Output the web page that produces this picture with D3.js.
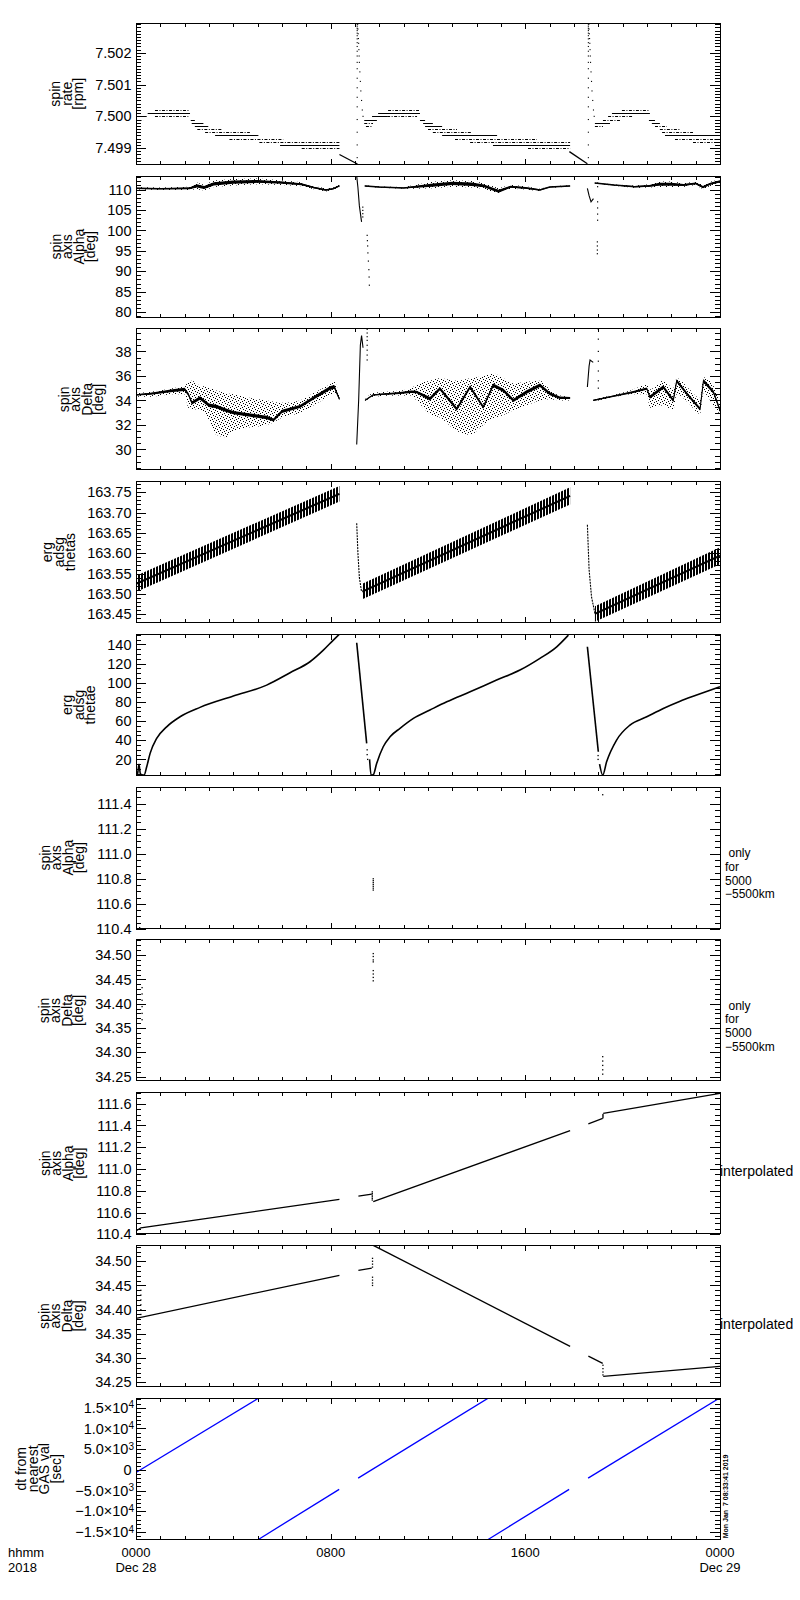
<!DOCTYPE html>
<html><head><meta charset="utf-8">
<script src="https://cdn.jsdelivr.net/npm/d3@7"></script>
<style>body{margin:0;background:#fff}svg{display:block}</style>
</head><body>
<svg id="chart" width="800" height="1600"></svg>
<script>
// ---------------- DATA ----------------
const hoursDomain = [0, 24];
const xMajorHours = [0, 8, 16, 24];
const xMajorLabels = ["0000", "0800", "1600", "0000"];
const xDateLabels = ["Dec 28", "", "", "Dec 29"];

// Panel 1: spin rate [rpm]
const rateTicks = [7.499, 7.500, 7.501, 7.502];
const rateSteps = [
  [0.78,2.18,7.5002,"d"],[0.48,2.22,7.5001,"s"],[0.00,0.44,7.5000,"s"],[0.78,2.15,7.5000,"d"],
  [0.00,0.29,7.4999,"d"],[2.25,2.42,7.4999,"s"],[0.00,0.16,7.4998,"d"],[2.29,2.77,7.4998,"s"],
  [2.42,2.97,7.4997,"s"],[2.52,3.52,7.4996,"d"],[2.84,4.68,7.4995,"d"],[3.25,5.03,7.4994,"s"],
  [3.84,6.05,7.4993,"d"],[5.07,8.36,7.4992,"d"],[5.92,8.36,7.4991,"s"],[6.81,8.36,7.4990,"d"],
  [9.38,9.90,7.4999,"s"],[9.38,9.74,7.4998,"d"],[9.45,9.70,7.4997,"d"],[9.70,10.32,7.5000,"s"],
  [10.32,11.55,7.5000,"d"],[9.95,11.67,7.5001,"s"],[10.36,11.63,7.5002,"d"],[11.67,11.88,7.4999,"s"],
  [11.80,12.20,7.4998,"s"],[11.88,12.58,7.4997,"s"],[12.00,13.19,7.4996,"d"],[12.20,13.81,7.4995,"d"],
  [12.58,14.84,7.4994,"s"],[13.11,16.48,7.4993,"d"],[13.73,17.84,7.4992,"d"],[14.67,17.84,7.4991,"s"],
  [16.11,17.84,7.4990,"d"],
  [18.86,19.48,7.4998,"s"],[18.86,19.19,7.4997,"d"],[19.19,19.89,7.4999,"d"],[19.40,20.42,7.5000,"d"],
  [19.56,21.12,7.5001,"s"],[19.97,21.08,7.5002,"d"],[21.08,21.33,7.4999,"s"],[21.20,21.53,7.4998,"s"],
  [21.33,21.82,7.4997,"d"],[21.53,22.36,7.4996,"d"],[21.62,22.89,7.4995,"d"],[21.74,24.00,7.4994,"s"],
  [22.15,24.00,7.4993,"d"],[22.89,24.00,7.4992,"d"]
];
const rateRamps = [[[8.36,7.49880],[9.10,7.49850]], [[17.81,7.49889],[18.55,7.49851]]];
const rateSpikeHours = [9.09, 18.59];
const rateSpikeColumn = [7.50288,7.50282,7.50276,7.5027,7.50262,7.50254,7.50244,7.50232,7.5022,7.50205,7.5019,7.5017,7.5015,7.5012,7.5009,7.5006,7.5003,7.4999,7.4995,7.4991,7.4987];
const rateDecay = [
  [9.11,7.50290],[9.12,7.50275],[9.13,7.5026],[9.14,7.50245],[9.15,7.5023],[9.16,7.5021],[9.17,7.5019],
  [9.18,7.5017],[9.20,7.5014],[9.22,7.5011],[9.24,7.5008],[9.27,7.5005],[9.30,7.5002],[9.33,7.5000],
  [18.61,7.50290],[18.62,7.50275],[18.63,7.5026],[18.64,7.50245],[18.65,7.5023],[18.66,7.5021],[18.67,7.5019],
  [18.68,7.5017],[18.70,7.5014],[18.72,7.5011],[18.74,7.5008],[18.77,7.5005],[18.80,7.5002],[18.83,7.5000]
];

// Panel 2: spin axis Alpha [deg]
const alphaTicks = [80, 85, 90, 95, 100, 105, 110];
const alphaH = [[0,1.0,2.2,2.5,2.8,3.2,4.0,5.0,6.0,6.8,7.3,7.8,8.1,8.36],
  [9.4,10.0,11.0,11.5,12.2,13.0,13.8,14.3,14.9,15.4,16.0,16.6,17.0,17.84],
  [18.85,19.65,20.5,21.1,21.5,22.0,22.5,23.0,23.3,23.6,24.0]];
const alphaMid = [[110.3,110.2,110.3,110.9,110.5,111.4,111.8,112.0,111.7,111.3,110.5,109.9,110.2,110.9],
  [110.9,110.6,110.4,110.7,111.1,111.5,111.3,110.9,109.6,110.7,110.4,109.9,110.6,110.9],
  [111.6,111.1,110.7,110.9,111.3,111.3,111.1,111.5,110.6,111.4,112.0]];
const alphaSpread = [[0.3,0.3,0.4,0.8,0.7,0.8,0.8,0.7,0.6,0.5,0.4,0.4,0.3,0.3],
  [0.15,0.15,0.2,0.5,0.8,0.8,0.8,0.7,0.7,0.5,0.4,0.3,0.2,0.15],
  [0.1,0.15,0.3,0.4,0.7,0.7,0.5,0.4,0.5,0.5,0.5]];
const alphaSpikes = [[[9.07,113.3],[9.12,110.5],[9.18,106.0],[9.27,102.1]], [[18.55,110.3],[18.62,108.5],[18.70,107.0],[18.80,107.8]]];
const alphaDots = [[9.32,105.7],[9.32,104.9],[9.32,104.1],[9.32,103.3],[9.50,98.8],[9.51,97.5],[9.52,96.2],[9.53,94.5],
  [9.55,92.5],[9.57,90.4],[9.58,88.6],[9.59,86.6],[18.97,111.6],[18.97,110.7],[18.97,107.0],[18.97,105.5],
  [18.97,104.0],[18.97,102.5],[18.96,97.2],[18.96,96.2],[18.96,95.2],[18.96,94.3]];

// Panel 3: spin axis Delta [deg]
const deltaTicks = [30, 32, 34, 36, 38];
const deltaH = [[0,0.6,1.5,2.0,2.15,2.3,2.63,3.0,3.3,3.7,4.0,4.7,5.37,5.65,6.0,6.74,7.3,7.97,8.15,8.36],
  [9.41,9.75,10.85,11.3,11.53,12.08,12.49,13.18,13.73,14.27,14.68,15.1,15.51,16.05,16.6,17.01,17.42,17.84],
  [18.79,19.5,20.44,20.99,21.12,21.67,22.08,22.22,22.7,23.18,23.32,23.73,24.0]];
const deltaCore = [[34.45,34.55,34.8,34.9,34.5,33.8,34.2,33.6,33.5,33.2,33.0,32.8,32.6,32.4,33.1,33.5,34.2,35.0,35.1,34.1],
  [34.0,34.45,34.6,34.7,34.68,34.14,34.96,33.3,35.1,33.45,35.23,34.82,34.0,34.68,35.23,34.55,34.22,34.2],
  [34.0,34.3,34.68,34.96,34.27,35.1,34.0,35.6,34.4,33.3,35.6,34.68,33.2]];
const deltaCoreHw = [[0.06,0.08,0.12,0.13,0.13,0.13,0.14,0.14,0.14,0.14,0.14,0.14,0.14,0.13,0.13,0.13,0.13,0.15,0.15,0.08],
  [0.05,0.06,0.08,0.1,0.1,0.14,0.14,0.14,0.14,0.14,0.14,0.14,0.14,0.14,0.14,0.12,0.1,0.08],
  [0.05,0.06,0.08,0.1,0.14,0.14,0.14,0.13,0.13,0.12,0.14,0.14,0.14]];
const deltaLow = [[34.3,34.3,34.5,34.5,33.4,33.3,33.2,32.4,31.2,31.0,31.5,31.8,32.0,32.2,32.6,33.0,33.6,34.4,34.6,33.9],
  [33.9,34.3,34.4,34.4,34.0,32.9,32.6,31.5,31.2,32.0,32.5,32.8,33.2,33.6,34.0,34.1,34.0,34.0],
  [33.9,34.2,34.5,34.5,33.4,33.6,33.2,34.5,33.8,32.9,34.6,33.6,32.8]];
const deltaHigh = [[34.6,34.7,35.0,35.2,35.5,35.6,35.2,35.1,34.8,34.6,34.5,34.2,34.0,33.9,33.8,34.0,34.6,35.3,35.5,34.3],
  [34.1,34.6,34.8,35.0,35.3,35.6,35.8,35.6,35.8,36.0,36.2,35.8,35.4,35.5,35.6,34.9,34.4,34.3],
  [34.1,34.4,34.9,35.3,34.9,35.6,35.0,35.8,35.0,34.2,35.9,35.2,33.8]];
const deltaSpikes = [[[9.07,30.4],[9.15,34.0],[9.22,38.5],[9.27,39.3],[9.33,38.3]], [[18.55,35.1],[18.62,36.8],[18.66,37.3],[18.79,37.1]]];
const deltaDots = [[9.5,39.8],[9.5,39.5],[9.5,39.2],[9.5,38.9],[9.5,38.5],[9.5,38.1],[9.5,37.7],[9.5,37.3],
  [19.0,39.8],[19.0,39.0],[19.0,38.0],[19.0,37.2],[19.0,36.4],[19.0,35.6],[19.0,35.0]];

// Panel 4: erg adsg thetas
const thetasTicks = [163.45,163.50,163.55,163.60,163.65,163.70,163.75];
const thetasBandH = [[0,8.36],[9.30,17.84],[18.86,24]];
const thetasBandLo = [[163.505,163.727],[163.487,163.72],[163.432,163.573]];
const thetasBandHi = [[163.545,163.765],[163.525,163.762],[163.47,163.615]];
const thetasSpikes = [[[9.07,163.674],[9.12,163.6],[9.18,163.54],[9.27,163.505]], [[18.55,163.67],[18.62,163.56],[18.72,163.493],[18.86,163.452]]];

// Panel 5: erg adsg thetae
const thetaeTicks = [20,40,60,80,100,120,140];
const thetaeSegs = [
  [[0.0,9],[0.06,4],[0.12,15],[0.18,5],[0.24,4],[0.33,3.6],[0.44,12.3],[0.58,26.3],[0.85,41.9],[1.26,54],[1.81,64.5],[2.63,74.3],[4.0,86.1],[5.37,97.5],[6.33,110.4],[7.15,121.9],[7.7,134],[8.11,144.5],[8.36,150.7]],
  [[9.07,141.7],[9.48,36.7]],
  [[9.6,20],[9.66,3.6],[9.75,4],[9.89,15.8],[10.16,33.2],[10.44,43.6],[10.85,52.4],[11.4,62.8],[12.08,71.5],[12.77,80.1],[13.73,90.5],[14.82,102.8],[15.78,113.2],[16.6,125.4],[17.29,137.5],[17.77,149.7]],
  [[18.55,137.5],[19.0,28]],
  [[19.05,15],[19.18,3.6],[19.34,17.5],[19.75,40.2],[20.3,55.8],[20.99,64.5],[21.67,73.2],[22.36,80.8],[23.04,87.1],[24,95.8]]
];
const thetaeDots = [[9.5,30],[9.5,25],[9.52,20],[18.99,24],[18.99,20]];

// Panel 6 / 7: only for 5000-5500km
const alphaFineTicks = [110.4,110.6,110.8,111.0,111.2,111.4];
const alphaOnlyDots = [[0.15,110.41],[9.75,110.80],[9.75,110.785],[9.75,110.77],[9.75,110.755],[9.75,110.74],[9.75,110.725],[9.75,110.71],[19.18,111.47]];
const deltaFineTicks = [34.25,34.30,34.35,34.40,34.45,34.50];
const deltaOnlyDots = [[0.25,34.433],[0.25,34.42],[0.25,34.407],[0.25,34.394],[0.25,34.38],[0.25,34.367],
  [9.75,34.503],[9.75,34.497],[9.75,34.49],[9.75,34.486],[9.75,34.468],[9.75,34.461],[9.75,34.454],[9.75,34.447],
  [19.18,34.291],[19.18,34.282],[19.18,34.273],[19.18,34.264],[19.18,34.255]];
const onlyLabelLines = ["only","for","5000","\u22125500km"];

// Panel 8 / 9: interpolated
const alphaInterpTicks = [110.4,110.6,110.8,111.0,111.2,111.4,111.6];
const alphaInterpSegs = [[[0,110.43],[0.2,110.46],[8.36,110.72]], [[9.14,110.751],[9.69,110.77]], [[9.75,110.70],[17.84,111.353]], [[18.59,111.415],[19.18,111.464]], [[19.2,111.51],[24,111.695]]];
const alphaInterpDots = [[9.71,110.79],[9.71,110.775],[9.71,110.76],[9.71,110.745],[9.71,110.73],[9.71,110.715],[19.19,111.47],[19.19,111.48],[19.19,111.49],[19.19,111.50]];
const deltaInterpSegs = [[[0,34.382],[8.36,34.471]], [[9.14,34.481],[9.69,34.486]], [[9.75,34.533],[17.84,34.324]], [[18.59,34.304],[19.18,34.289]], [[19.2,34.262],[24,34.2825]]];
const deltaInterpDots = [[0.2,34.44],[0.2,34.43],[0.2,34.42],[0.2,34.41],[0.2,34.40],[0.2,34.39],
  [9.72,34.506],[9.72,34.5],[9.72,34.494],[9.72,34.488],[9.72,34.467],[9.72,34.461],[9.72,34.455],[9.72,34.45],
  [19.19,34.285],[19.19,34.278],[19.19,34.271],[19.19,34.265]];

// Panel 10: dt from nearest GAS val [sec]
const dtTicks = [-15000,-10000,-5000,0,5000,10000,15000];
const dtTickMantissa = ["\u22121.5","\u22121.0","\u22125.0","0","5.0","1.0","1.5"];
const dtTickExp = ["4","4","3","","3","4","4"];
const dtSegments = [[[0,-650],[5.03,17300]], [[5.03,-16800],[8.35,-4700]], [[9.13,-2000],[14.47,17300]], [[14.47,-16800],[17.80,-4700]], [[18.58,-2000],[24,17400]]];

// ---------------- DRAWING ----------------
const FONT = "'Liberation Sans', Arial, Helvetica, sans-serif";
const svg = d3.select("#chart");
const X0 = 136, X1 = 720, TOP0 = 23.3, STEP = 152.78, PH = 141;
const x = d3.scaleLinear().domain(hoursDomain).range([X0, X1]);
const defs = svg.append("defs");
const stip = defs.append("pattern").attr("id","stip").attr("patternUnits","userSpaceOnUse").attr("width",6).attr("height",6);
[[0,0],[3,1],[5,2],[1,3],[4,4],[2,5]].forEach(p => stip.append("rect").attr("x",p[0]).attr("y",p[1]).attr("width",1).attr("height",1).attr("fill","#000"));
const hatch = defs.append("pattern").attr("id","hatch").attr("patternUnits","userSpaceOnUse").attr("width",3).attr("height",4);
hatch.append("rect").attr("width",2).attr("height",4).attr("fill","#000");

function styleAxis(sel){
  sel.select(".domain").remove();
  sel.attr("font-family", FONT).attr("font-size", 14.5);
  sel.selectAll("line").attr("stroke","#000").attr("shape-rendering","crispEdges");
  sel.selectAll("text").attr("fill","#000");
}

function makePanel(i, domain, ticks, minorStep, fmt, labelLines) {
  const top = TOP0 + i*STEP, bottom = top + PH;
  const y = d3.scaleLinear().domain(domain).range([bottom, top]);
  const g = svg.append("g");
  defs.append("clipPath").attr("id","clip"+i).append("rect").attr("x",X0).attr("y",top).attr("width",X1-X0).attr("height",PH);
  const plot = g.append("g").attr("clip-path", `url(#clip${i})`);
  const k0 = Math.ceil(domain[0]/minorStep - 1e-6), k1 = Math.floor(domain[1]/minorStep + 1e-6);
  const minor = d3.range(k0, k1+1).map(k => k*minorStep);
  g.append("g").attr("transform",`translate(${X0},0)`).call(d3.axisLeft(y).tickValues(minor).tickSize(-5).tickFormat("")).call(styleAxis);
  const lab = g.append("g").attr("transform",`translate(${X0},0)`).call(d3.axisLeft(y).tickValues(ticks).tickSize(-10).tickPadding(4.5).tickFormat(fmt || "")).call(styleAxis);
  g.append("g").attr("transform",`translate(${X1},0)`).call(d3.axisRight(y).tickValues(minor).tickSize(-5).tickFormat("")).call(styleAxis);
  g.append("g").attr("transform",`translate(${X1},0)`).call(d3.axisRight(y).tickValues(ticks).tickSize(-10).tickFormat("")).call(styleAxis);
  const hrs = d3.range(0, 25);
  g.append("g").attr("transform",`translate(0,${top})`).call(d3.axisTop(x).tickValues(hrs).tickSize(-3.5).tickFormat("")).call(styleAxis);
  g.append("g").attr("transform",`translate(0,${top})`).call(d3.axisTop(x).tickValues(xMajorHours).tickSize(-5.5).tickFormat("")).call(styleAxis);
  g.append("g").attr("transform",`translate(0,${bottom})`).call(d3.axisBottom(x).tickValues(hrs).tickSize(-3.5).tickFormat("")).call(styleAxis);
  g.append("g").attr("transform",`translate(0,${bottom})`).call(d3.axisBottom(x).tickValues(xMajorHours).tickSize(-5.5).tickFormat("")).call(styleAxis);
  g.append("rect").attr("x",X0).attr("y",top).attr("width",X1-X0).attr("height",PH)
    .attr("fill","none").attr("stroke","#000").attr("stroke-width",1).attr("shape-rendering","crispEdges");
  const p = {g, plot, y, top, bottom, lab};
  p.labelLines = labelLines;
  return p;
}

function leftLabel(p, extraTexts) {
  let maxW = 0;
  p.lab.selectAll("text").each(function(){ maxW = Math.max(maxW, this.getComputedTextLength()); });
  if (extraTexts) extraTexts.forEach(t => { maxW = Math.max(maxW, t.node().getComputedTextLength()); });
  const right = X0 - 4.5 - maxW - 9;
  const cy = (p.top + p.bottom)/2, n = p.labelLines.length, sp = 11.5;
  p.labelLines.forEach((t, k) => {
    const bx = right - 3 - (n-1-k)*sp;
    svg.append("text").attr("transform",`translate(${bx},${cy}) rotate(-90)`)
      .attr("text-anchor","middle").attr("font-family",FONT).attr("font-size",14).attr("fill","#000").text(t);
  });
}

// multi-line right-hand annotation
function rightLabel(p, lines, firstDy, xs, fs, sp) {
  const cy = (p.top + p.bottom)/2;
  lines.forEach((s, k) => {
    svg.append("text").attr("x", xs[k]).attr("y", cy + firstDy + k*sp).attr("dy","0.35em")
      .attr("font-family",FONT).attr("font-size",fs).attr("fill","#000").text(s);
  });
}

function dots(p, pts, s) {
  s = s || 1.2;
  p.plot.selectAll(null).data(pts).enter().append("rect")
    .attr("x", d => x(d[0]) - s/2).attr("y", d => p.y(d[1]) - s/2)
    .attr("width", s).attr("height", s).attr("fill","#000");
}
function lines(p, segs, color, w, dash, curve) {
  const ln = d3.line().x(d => x(d[0])).y(d => p.y(d[1]));
  if (curve) ln.curve(curve);
  p.plot.selectAll(null).data(segs).enter().append("path").attr("d", ln)
    .attr("fill","none").attr("stroke", color || "#000").attr("stroke-width", w || 1.2)
    .attr("stroke-dasharray", dash || null);
}
function band(p, H, lo, hi, fill, curve) {
  H.forEach((hs, s) => {
    const rows = hs.map((h, j) => [h, lo[s][j], hi[s][j]]);
    const ar = d3.area().x(d => x(d[0])).y0(d => p.y(d[1])).y1(d => p.y(d[2]));
    if (curve) ar.curve(curve);
    p.plot.append("path").attr("d", ar(rows)).attr("fill", fill);
  });
}

const labels = [
  ["spin","rate","[rpm]"],
  ["spin","axis","Alpha","[deg]"],
  ["spin","axis","Delta","[deg]"],
  ["erg","adsg","thetas"],
  ["erg","adsg","thetae"],
  ["spin","axis","Alpha","[deg]"],
  ["spin","axis","Delta","[deg]"],
  ["spin","axis","Alpha","[deg]"],
  ["spin","axis","Delta","[deg]"],
  ["dt from","nearest","GAS val","[sec]"]
];

// Panel 1
const p1 = makePanel(0, [7.49849, 7.50293], rateTicks, 0.0001, d3.format(".3f"), labels[0]);
p1.plot.selectAll(null).data(rateSteps).enter().append("line")
  .attr("x1", d => x(d[0])).attr("x2", d => x(d[1]))
  .attr("y1", d => Math.round(p1.y(d[2])) + 0.5).attr("y2", d => Math.round(p1.y(d[2])) + 0.5)
  .attr("stroke","#000").attr("stroke-width",1)
  .attr("stroke-dasharray", d => d[3] === "d" ? "3,1.5,1,1.5" : null);
lines(p1, rateRamps, "#000", 1.3);
rateSpikeHours.forEach(h => dots(p1, rateSpikeColumn.map(v => [h, v]), 1.1));
dots(p1, rateDecay, 1.1);
leftLabel(p1);

// Panel 2
const p2 = makePanel(1, [78.8, 113.3], alphaTicks, 1, d3.format("d"), labels[1]);
band(p2, alphaH, alphaMid.map((m,s)=>m.map((v,j)=>v-alphaSpread[s][j])), alphaMid.map((m,s)=>m.map((v,j)=>v+alphaSpread[s][j])), "url(#stip)");
band(p2, alphaH, alphaMid.map((m,s)=>m.map((v,j)=>v-alphaSpread[s][j]*0.5)), alphaMid.map((m,s)=>m.map((v,j)=>v+alphaSpread[s][j]*0.5)), "#000");
lines(p2, alphaH.map((hs,s)=>hs.map((h,j)=>[h, alphaMid[s][j]])), "#000", 1.5);
lines(p2, alphaSpikes, "#000", 1.1);
dots(p2, alphaDots, 1.2);
leftLabel(p2);

// Panel 3
const p3 = makePanel(2, [28.33, 39.84], deltaTicks, 0.5, d3.format("d"), labels[2]);
band(p3, deltaH, deltaLow, deltaHigh, "url(#stip)", d3.curveMonotoneX);
band(p3, deltaH, deltaCore.map((m,s)=>m.map((v,j)=>v-deltaCoreHw[s][j])), deltaCore.map((m,s)=>m.map((v,j)=>v+deltaCoreHw[s][j])), "#000");
lines(p3, deltaH.map((hs,s)=>hs.map((h,j)=>[h, deltaCore[s][j]])), "#000", 1.1);
lines(p3, deltaSpikes, "#000", 1.1);
dots(p3, deltaDots, 1.2);
leftLabel(p3);

// Panel 4
const p4 = makePanel(3, [163.4296, 163.776], thetasTicks, 0.01, d3.format(".2f"), labels[3]);
band(p4, thetasBandH, thetasBandLo, thetasBandHi, "url(#hatch)");
lines(p4, thetasBandH.map((hs,s)=>hs.map((h,j)=>[h,(thetasBandLo[s][j]+thetasBandHi[s][j])/2])), "#000", 2);
lines(p4, thetasSpikes, "#000", 1.1, "2,1");
leftLabel(p4);

// Panel 5
const p5 = makePanel(4, [3.3, 150.4], thetaeTicks, 5, d3.format("d"), labels[4]);
lines(p5, thetaeSegs, "#000", 1.6, null, d3.curveMonotoneX);
dots(p5, thetaeDots, 1.3);
leftLabel(p5);

// Panel 6
const p6 = makePanel(5, [110.406, 111.53], alphaFineTicks, 0.05, d3.format(".1f"), labels[5]);
dots(p6, alphaOnlyDots, 1.3);
leftLabel(p6);
rightLabel(p6, onlyLabelLines, -5, [728.5, 725, 725, 725], 12, 13.8);

// Panel 7
const p7 = makePanel(6, [34.241, 34.531], deltaFineTicks, 0.01, d3.format(".2f"), labels[6]);
dots(p7, deltaOnlyDots, 1.3);
leftLabel(p7);
rightLabel(p7, onlyLabelLines, -5, [728.5, 725, 725, 725], 12, 13.8);

// Panel 8
const p8 = makePanel(7, [110.405, 111.70], alphaInterpTicks, 0.05, d3.format(".1f"), labels[7]);
lines(p8, alphaInterpSegs, "#000", 1.3);
dots(p8, alphaInterpDots, 1.3);
leftLabel(p8);
rightLabel(p8, ["interpolated"], 8, [720], 14, 0);

// Panel 9
const p9 = makePanel(8, [34.241, 34.5325], deltaFineTicks, 0.01, d3.format(".2f"), labels[8]);
lines(p9, deltaInterpSegs, "#000", 1.3);
dots(p9, deltaInterpDots, 1.3);
leftLabel(p9);
rightLabel(p9, ["interpolated"], 8, [720], 14, 0);

// Panel 10
const p10 = makePanel(9, [-16770, 17270], dtTicks, 1000, null, labels[9]);
const dtTexts = [];
dtTicks.forEach((v, k) => {
  const t = p10.g.append("text").attr("x", X0 - 2).attr("y", p10.y(v)).attr("dy","0.35em")
    .attr("text-anchor","end").attr("font-family",FONT).attr("font-size",14.5).attr("fill","#000");
  if (dtTickExp[k]) {
    t.append("tspan").text(dtTickMantissa[k] + "\u00d710");
    t.append("tspan").attr("dy","-0.45em").attr("font-size",10).text(dtTickExp[k]);
  } else {
    t.attr("x", X0 - 4.5).text(dtTickMantissa[k]);
  }
  dtTexts.push(t);
});
lines(p10, dtSegments, "#0000ff", 1.3);
leftLabel(p10, dtTexts);

// bottom time axis labels
const by = p10.bottom;
const BFS = 13, R1 = 18, R2 = 32.6;
svg.selectAll(null).data(xMajorHours).enter().append("text")
  .attr("x", d => x(d)).attr("y", by + R1).attr("text-anchor","middle")
  .attr("font-family",FONT).attr("font-size",BFS).attr("fill","#000")
  .text((d,i) => xMajorLabels[i]);
svg.selectAll(null).data(xMajorHours.filter((d,i) => xDateLabels[i])).enter().append("text")
  .attr("x", d => x(d)).attr("y", by + R2).attr("text-anchor","middle")
  .attr("font-family",FONT).attr("font-size",BFS).attr("fill","#000")
  .text(d => xDateLabels[xMajorHours.indexOf(d)]);
svg.append("text").attr("x", 8).attr("y", by + R1).attr("font-family",FONT).attr("font-size",BFS).attr("fill","#000").text("hhmm");
svg.append("text").attr("x", 8).attr("y", by + R2).attr("font-family",FONT).attr("font-size",BFS).attr("fill","#000").text("2018");

// time stamp
svg.append("text").attr("transform", `translate(727.5,${by - 1}) rotate(-90)`)
  .attr("font-family",FONT).attr("font-size",7).attr("font-weight","bold").attr("fill","#000")
  .style("white-space","pre").text("Mon Jan  7 08:33:41 2019");
</script>
</body></html>
